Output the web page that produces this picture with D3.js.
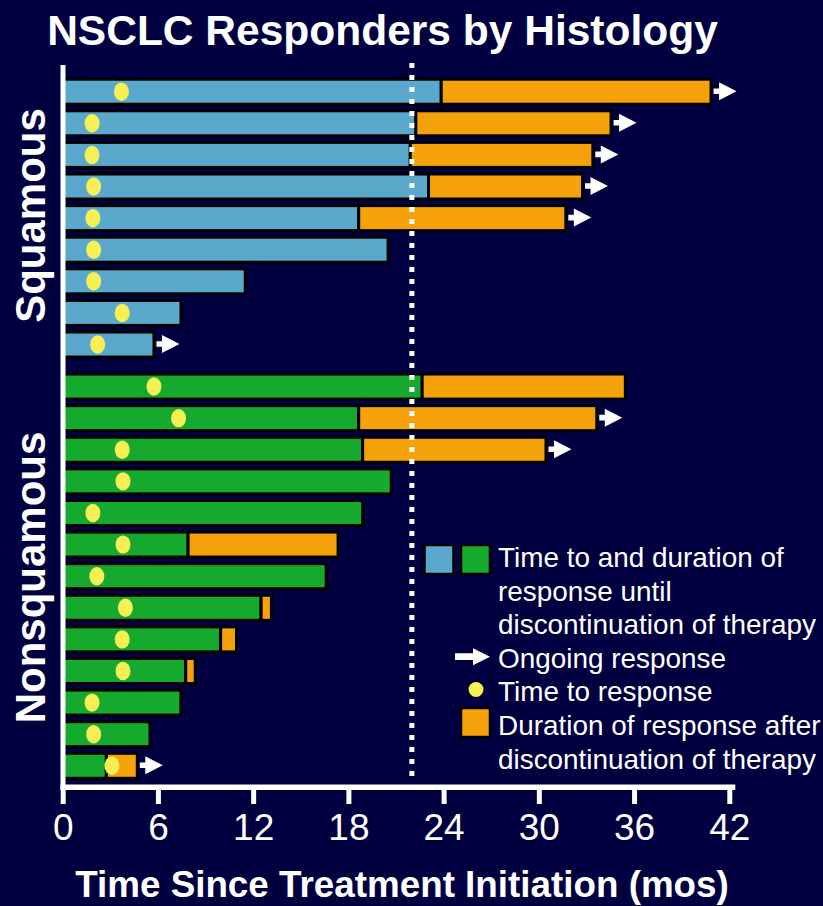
<!DOCTYPE html>
<html>
<head>
<meta charset="utf-8">
<script src="https://cdn.jsdelivr.net/npm/d3@7"></script>
<style>
  html, body { margin: 0; padding: 0; background: #000040; }
  svg { display: block; font-family: "Liberation Sans", Arial, Helvetica, sans-serif; }
</style>
</head>
<body>
<svg id="chart" width="823" height="906"></svg>
<script>
// Responders, top to bottom, grouped by histology
const histology = [
  "Squamous", "Squamous", "Squamous", "Squamous", "Squamous", "Squamous", "Squamous", "Squamous", "Squamous",
  "Nonsquamous", "Nonsquamous", "Nonsquamous", "Nonsquamous", "Nonsquamous", "Nonsquamous", "Nonsquamous",
  "Nonsquamous", "Nonsquamous", "Nonsquamous", "Nonsquamous", "Nonsquamous", "Nonsquamous"
];
// Months from start of treatment until discontinuation of therapy
const onTherapyEnd = [23.85, 22.25, 21.9, 23.05, 18.65, 20.5, 11.5, 7.45, 5.75,
  22.65, 18.65, 18.9, 20.7, 18.9, 7.9, 16.6, 12.5, 9.95, 7.75, 7.45, 5.5, 2.75];
// Months until end of response after therapy was stopped (null = none)
const offTherapyEnd = [40.85, 34.55, 33.4, 32.75, 31.7, null, null, null, null,
  35.45, 33.65, 30.45, null, null, 17.35, null, 13.15, 10.95, 8.35, null, null, 4.7];
// Months until first response
const timeToResponse = [3.7, 1.85, 1.85, 1.95, 1.9, 1.95, 1.95, 3.75, 2.2,
  5.75, 7.3, 3.75, 3.8, 1.9, 3.8, 2.15, 3.95, 3.75, 3.8, 1.85, 1.95, 3.1];
// Response still ongoing at data cutoff
const ongoing = [true, true, true, true, true, false, false, false, true,
  false, true, true, false, false, false, false, false, false, false, false, false, true];

const groups = ["Squamous", "Nonsquamous"];
const xTicks = [0, 6, 12, 18, 24, 30, 36, 42];
const referenceMonth = 22;

const legendLines = [
  "Time to and duration of",
  "response until",
  "discontinuation of therapy",
  "Ongoing response",
  "Time to response",
  "Duration of response after",
  "discontinuation of therapy"
];

const colors = {
  squamous: "#5aa9cd",
  nonsquamous: "#15aa2e",
  after: "#f5a20a",
  dot: "#f7f055",
  text: "#ffffff"
};

const svg = d3.select("#chart");
svg.append("rect").attr("width", 823).attr("height", 906).attr("fill", "#000040");

// Scales
const x = d3.scaleLinear().domain([0, 42]).range([62.7, 729.3]);
const groupGap = 0.33;
const slot = histology.map((h, i) => i + (h === "Nonsquamous" ? groupGap : 0));
const y = d3.scaleLinear().domain([0, 21 + groupGap]).range([91.7, 765.8]);

const barH = 25;
const rows = histology.map((h, i) => ({
  h, i,
  yc: y(slot[i]),
  end: onTherapyEnd[i],
  after: offTherapyEnd[i],
  ttr: timeToResponse[i],
  ongoing: ongoing[i]
}));

const plot = svg.append("g");

// Time on therapy
plot.selectAll("rect.on").data(rows).join("rect")
  .attr("class", "on")
  .attr("x", x(0))
  .attr("y", d => d.yc - barH / 2)
  .attr("width", d => x(d.end) - x(0))
  .attr("height", barH)
  .attr("fill", d => d.h === "Squamous" ? colors.squamous : colors.nonsquamous)
  .attr("stroke", "#000")
  .attr("stroke-width", 3);

// Response after discontinuation
plot.selectAll("rect.after").data(rows.filter(d => d.after != null)).join("rect")
  .attr("class", "after")
  .attr("x", d => x(d.end))
  .attr("y", d => d.yc - barH / 2)
  .attr("width", d => x(d.after) - x(d.end))
  .attr("height", barH)
  .attr("fill", colors.after)
  .attr("stroke", "#000")
  .attr("stroke-width", 3);

// Arrow shape, drawn from its left end at (0,0)
function arrowPath(shaftStart, headBase, tip, shaftHalf, headHalf) {
  return `M${shaftStart},${-shaftHalf}L${headBase},${-shaftHalf}L${headBase},${-headHalf}` +
    `L${tip},0L${headBase},${headHalf}L${headBase},${shaftHalf}L${shaftStart},${shaftHalf}Z`;
}

plot.selectAll("path.arrow").data(rows.filter(d => d.ongoing)).join("path")
  .attr("class", "arrow")
  .attr("transform", d => `translate(${x(d.after != null ? d.after : d.end) + 1.5},${d.yc - 0.5})`)
  .attr("d", arrowPath(1, 6.5, 24, 2.8, 9))
  .attr("fill", "#fff");

// Reference line
svg.append("line")
  .attr("x1", x(referenceMonth)).attr("x2", x(referenceMonth))
  .attr("y1", 63).attr("y2", 782)
  .attr("stroke", "#fff")
  .attr("stroke-width", 5)
  .attr("stroke-dasharray", "5 7");

// Time to response
plot.selectAll("ellipse.ttr").data(rows).join("ellipse")
  .attr("class", "ttr")
  .attr("cx", d => x(d.ttr))
  .attr("cy", d => d.yc)
  .attr("rx", 7.5)
  .attr("ry", 9.2)
  .attr("fill", colors.dot);

// Axes lines
svg.append("rect").attr("x", 60.5).attr("y", 65).attr("width", 5).attr("height", 725).attr("fill", "#fff");
svg.append("rect").attr("x", 60.5).attr("y", 784.5).attr("width", x(42) + 6 - 60.5).attr("height", 5.5).attr("fill", "#fff");

const xAxis = d3.axisBottom(x)
  .tickValues(xTicks)
  .tickFormat(d3.format("d"))
  .tickSize(14)
  .tickPadding(8);

const gx = svg.append("g").attr("transform", "translate(0,790)").call(xAxis);
gx.select(".domain").remove();
gx.selectAll(".tick line").attr("stroke", "#fff").attr("stroke-width", 5).attr("y1", -1);
gx.selectAll(".tick text")
  .attr("fill", colors.text)
  .attr("font-size", 37)
  .attr("font-family", "\"Liberation Sans\", Arial, sans-serif")
  .attr("dy", null)
  .attr("y", 50);

// Title
svg.append("text")
  .attr("x", 382.5).attr("y", 45)
  .attr("text-anchor", "middle")
  .attr("fill", colors.text)
  .attr("font-size", 42.5)
  .attr("font-weight", "bold")
  .text("NSCLC Responders by Histology");

// X axis title
svg.append("text")
  .attr("x", 402).attr("y", 897)
  .attr("text-anchor", "middle")
  .attr("fill", colors.text)
  .attr("font-size", 36.8)
  .attr("font-weight", "bold")
  .text("Time Since Treatment Initiation (mos)");

// Group labels
const groupLabelY = { "Squamous": 215.5, "Nonsquamous": 577.5 };
svg.selectAll("text.group").data(groups).join("text")
  .attr("class", "group")
  .attr("transform", g => `translate(45,${groupLabelY[g]}) rotate(-90)`)
  .attr("text-anchor", "middle")
  .attr("fill", colors.text)
  .attr("font-size", 42)
  .attr("font-weight", "bold")
  .text(g => g);

// Legend
const legend = svg.append("g");
legend.append("rect").attr("x", 424.5).attr("y", 545).attr("width", 29).attr("height", 29)
  .attr("fill", colors.squamous).attr("stroke", "#000").attr("stroke-width", 2.5);
legend.append("rect").attr("x", 461).attr("y", 545).attr("width", 29).attr("height", 29)
  .attr("fill", colors.nonsquamous).attr("stroke", "#000").attr("stroke-width", 2.5);
legend.append("path")
  .attr("transform", "translate(455,656.7)")
  .attr("d", arrowPath(0, 18, 35, 3.4, 8.5))
  .attr("fill", "#fff");
legend.append("circle").attr("cx", 476).attr("cy", 689.5).attr("r", 7.5).attr("fill", colors.dot);
legend.append("rect").attr("x", 461).attr("y", 708).attr("width", 29).attr("height", 29)
  .attr("fill", colors.after).attr("stroke", "#000").attr("stroke-width", 2.5);

legend.selectAll("text").data(legendLines).join("text")
  .attr("x", 498)
  .attr("y", (d, i) => 567 + i * 33.6)
  .attr("fill", colors.text)
  .attr("font-size", 27.9)
  .text(d => d);
</script>
</body>
</html>
